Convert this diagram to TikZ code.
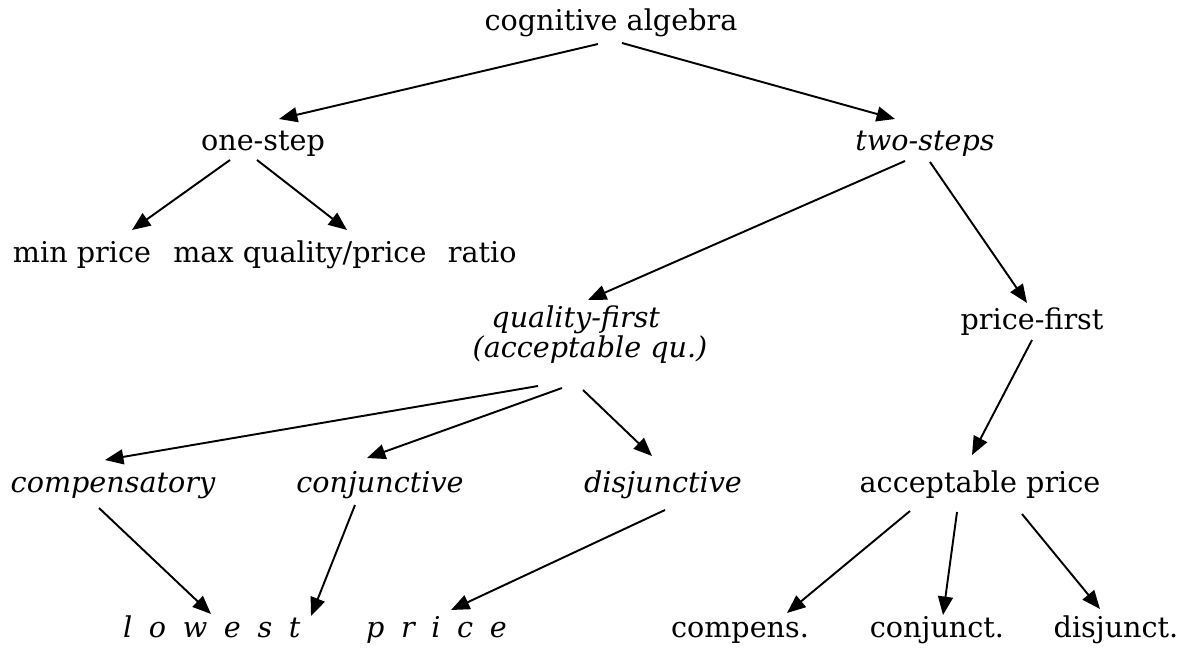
\documentclass[tikz,border=0pt]{standalone}
\usepackage{fontspec}
\setmainfont{DejaVu Serif}
\usepackage{tikz}
\usetikzlibrary{arrows.meta, calc}
\newcommand{\ls}{\hspace{0.58em}}
\tikzset{
  lbl/.style={inner sep=0pt, anchor=base, font=\fontsize{16.3}{17}\selectfont},
  ilbl/.style={lbl, font=\fontsize{16.3}{17}\selectfont\itshape},
  arrow/.style={-{Triangle[length=10.5pt,width=8.5pt]}, line width=1.1pt, color=black}
}

\begin{document}
\begin{tikzpicture}[x=0.02cm, y=-0.02cm]
  \useasboundingbox (0,0) rectangle (1183,655);

  % levels of the tree
  \node (cog) [lbl] at (611,31) {cognitive algebra};
  \node (one) [lbl] at (263,151) {one-step};
  \node (two) [ilbl] at (925,151) {two-steps};
  \node (minp) [lbl] at (82,262) {min price};
  \node (maxq) [lbl] at (345,262) {max quality/price\hspace{0.75em}ratio};
  \node (qual) [ilbl, anchor=center, align=center] at (590,335) {quality-first\hspace*{1em}\\(acceptable qu.)};
  \node (pricef) [lbl] at (1032,329) {price-first};
  \node (comp) [ilbl] at (113,492) {compensatory};
  \node (conj) [ilbl] at (380,492) {conjunctive};
  \node (disj) [ilbl] at (663,492) {disjunctive};
  \node (accp) [lbl] at (980,492) {acceptable price};
  \node (lowp) [ilbl] at (315,637) {l\ls o\ls w\ls e\ls s\ls t\hspace{2.3em}p\ls r\ls i\ls c\ls e};
  \node (cmps) [lbl] at (740,637) {compens.};
  \node (cnjt) [lbl] at (937,637) {conjunct.};
  \node (djnt) [lbl] at (1116,637) {disjunct.};

  \draw [arrow] ($(cog.base)+(-13,13)$) -- ($(one.base)+(16,-32)$);
  \draw [arrow] ($(cog.base)+(11,12)$) -- ($(two.base)+(-30,-32)$);
  \draw [arrow] ($(one.base)+(-33,9)$) -- ($(minp.base)+(50,-32)$);
  \draw [arrow] ($(one.base)+(-6,9)$) -- ($(maxq.base)+(2,-32)$);
  \draw [arrow] ($(two.base)+(-20,10)$) -- ($(qual)+(-2,-35)$);
  \draw [arrow] ($(two.base)+(5,11)$) -- ($(pricef.base)+(-5,-26)$);
  \draw [arrow] ($(qual)+(-52,51)$) -- ($(comp.base)+(-8,-32)$);
  \draw [arrow] ($(qual)+(-28,53)$) -- ($(conj.base)+(-13,-34)$);
  \draw [arrow] ($(qual)+(-7,55)$) -- ($(disj.base)+(-11,-36)$);
  \draw [arrow] ($(pricef.base)+(0,11)$) -- ($(accp.base)+(-8,-37)$);
  \draw [arrow] ($(comp.base)+(-14,16)$) -- ($(lowp.base)+(-104,-23)$);
  \draw [arrow] ($(conj.base)+(-25,13)$) -- ($(lowp.base)+(-4,-21)$);
  \draw [arrow] ($(disj.base)+(2,18)$) -- ($(lowp.base)+(136,-27)$);
  \draw [arrow] ($(accp.base)+(-70,19)$) -- ($(cmps.base)+(47,-24)$);
  \draw [arrow] ($(accp.base)+(-23,20)$) -- ($(cnjt.base)+(6,-22)$);
  \draw [arrow] ($(accp.base)+(42,22)$) -- ($(djnt.base)+(-16,-28)$);
\end{tikzpicture}
\end{document}
